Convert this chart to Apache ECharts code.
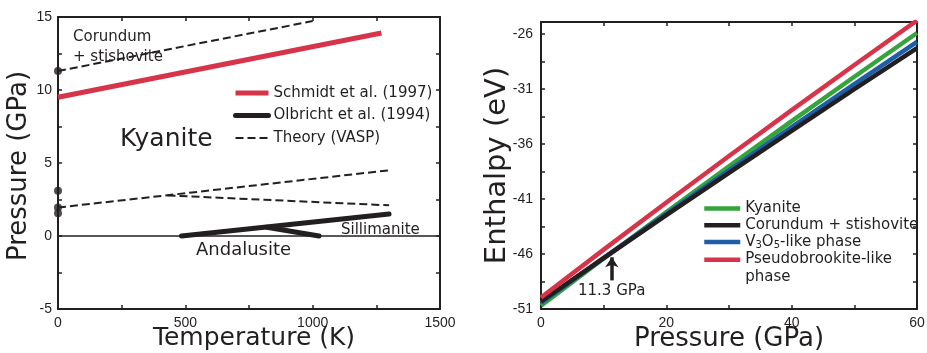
<!DOCTYPE html>
<html>
<head>
<meta charset="utf-8">
<script src="https://cdn.jsdelivr.net/npm/echarts@6/dist/echarts.min.js"></script>
<style>
  html, body { margin: 0; padding: 0; background: #ffffff; }
  #chart { width: 927px; height: 353px; }
</style>
</head>
<body>
<div id="chart"></div>
<script>
// ---- Left panel: Al2SiO5 phase boundaries, temperature (K) vs pressure (GPa) ----
const schmidtT = [0, 1270];
const schmidtP = [9.5, 13.9];
const olbrichtMainT = [485, 1300];
const olbrichtMainP = [0, 1.5];
const olbrichtBranchT = [820, 1025];
const olbrichtBranchP = [0.6, 0];
const theoryUpperT = [0, 1000];
const theoryUpperP = [11.3, 14.72];
const theoryRisingT = [0, 1300];
const theoryRisingP = [1.95, 4.5];
const theoryFallingT = [430, 1300];
const theoryFallingP = [2.78, 2.1];
const theoryDotsP = [11.3, 3.1, 1.95, 1.55];
const tempTicks = [0, 500, 1000, 1500];
const tempMinorTicks = [250, 750, 1250];
const pressureTicks = [-5, 0, 5, 10, 15];
const pressureMinorTicks = [-2.5, 2.5, 7.5, 12.5];

// ---- Right panel: enthalpy (eV) vs pressure (GPa) ----
const pressureGPa = [0, 10, 20, 30, 40, 50, 60];
const kyaniteH  = [-50.7, -46.41, -42.19, -38.03, -33.92, -29.88, -25.9];
const corundumH = [-50.3, -46.37, -42.47, -38.62, -34.8, -31.01, -27.27];
const v3o5H     = [-50.45, -46.35, -42.35, -38.4, -34.45, -30.55, -26.7];
const pseudoH   = [-49.95, -45.6, -41.32, -37.09, -32.92, -28.81, -24.76];
const gpaTicks = [0, 20, 40, 60];
const gpaMinorTicks = [10, 30, 50];
const enthalpyTicks = [-51, -46, -41, -36, -31, -26];
const enthalpyMinorTicks = [-48.5, -43.5, -38.5, -33.5, -28.5];
const transitionP = 11.3;
const arrowFromH = -48.4;
const arrowToH = -46.3;

const INK = '#231f20';
const RED = '#d7344a';
const GREEN = '#36a43c';
const BLUE = '#1f5da6';
const LABEL_FONT = "'Liberation Sans', Arial, sans-serif";
const TEXT_FONT = "'DejaVu Sans', sans-serif";

const zip = (xs, ys) => xs.map((x, i) => [x, ys[i]]);
const plain = v => String(v);

function ticksOf(major, minor) {
  return major.concat(minor).sort((a, b) => a - b);
}

// One side of a plot frame: solid axis line with inward ticks
function frameAxis(gridIndex, position, min, max, major, minor, extra) {
  return Object.assign({
    type: 'value', gridIndex, position, min, max,
    axisLine: { show: true, onZero: false, lineStyle: { color: INK, width: 2 } },
    axisTick: { show: true, inside: true, length: 4, lineStyle: { color: INK, width: 1.5 },
                customValues: ticksOf(major, minor) },
    axisLabel: { show: false },
    splitLine: { show: false }
  }, extra || {});
}

function labelled(major, margin) {
  return { show: true, customValues: major, margin, formatter: plain,
           color: INK, fontSize: 14, fontFamily: LABEL_FONT };
}

function axisTitle(text, gap, size, padding) {
  return { name: text, nameLocation: 'middle', nameGap: gap, nameMoveOverlap: false,
           nameTextStyle: { color: INK, fontSize: size, fontFamily: TEXT_FONT, padding } };
}

const legendText = { color: INK, fontFamily: TEXT_FONT };

const chart = echarts.init(document.getElementById('chart'), null, { renderer: 'canvas' });

chart.setOption({
  animation: false,
  backgroundColor: '#ffffff',
  grid: [
    { left: 58, right: 487, top: 17, bottom: 44, outerBoundsMode: 'none', containLabel: false },
    { left: 541, right: 10, top: 22, bottom: 44, outerBoundsMode: 'none', containLabel: false }
  ],
  xAxis: [
    frameAxis(0, 'bottom', 0, 1500, tempTicks, tempMinorTicks,
      Object.assign({ axisLabel: labelled(tempTicks, 7) },
                    axisTitle('Temperature (K)', 17, 25, [0, 0, 0, 10]))),
    frameAxis(0, 'top', 0, 1500, tempTicks, tempMinorTicks),
    frameAxis(1, 'bottom', 0, 60, gpaTicks, gpaMinorTicks,
      Object.assign({ axisLabel: labelled(gpaTicks, 7) },
                    axisTitle('Pressure (GPa)', 17, 26, 0))),
    frameAxis(1, 'top', 0, 60, gpaTicks, gpaMinorTicks)
  ],
  yAxis: [
    frameAxis(0, 'left', -5, 15, pressureTicks, pressureMinorTicks,
      Object.assign({ axisLabel: labelled(pressureTicks, 6) },
                    axisTitle('Pressure (GPa)', 26, 26, [0, 6, 0, 0]))),
    frameAxis(0, 'right', -5, 15, pressureTicks, pressureMinorTicks),
    frameAxis(1, 'left', -51, -24.9, enthalpyTicks, enthalpyMinorTicks,
      Object.assign({ axisLabel: labelled(enthalpyTicks, 8) },
                    axisTitle('Enthalpy (eV)', 29, 29, 0))),
    frameAxis(1, 'right', -51, -24.9, enthalpyTicks, enthalpyMinorTicks)
  ],
  legend: [
    {
      left: 233, top: 83, orient: 'vertical', padding: 0,
      itemWidth: 33, itemHeight: 14, itemGap: 2.5,
      data: ['Schmidt et al. (1997)', 'Olbricht et al. (1994)', 'Theory (VASP)'],
      lineStyle: { width: 'inherit' },
      itemStyle: { opacity: 0, borderWidth: 0 },
      selectedMode: false,
      textStyle: Object.assign({ fontSize: 15, lineHeight: 20 }, legendText)
    },
    {
      left: 702, top: 201, orient: 'vertical', padding: 0,
      itemWidth: 36, itemHeight: 14, itemGap: 1.7,
      data: ['Kyanite', 'Corundum + stishovite', 'V3O5-like phase'],
      lineStyle: { width: 'inherit' },
      itemStyle: { opacity: 0, borderWidth: 0 },
      selectedMode: false,
      formatter: function (name) {
        if (name === 'V3O5-like phase') {
          return '{n|V}{s|3}{n|O}{s|5}{n|-like phase}';
        }
        return '{n|' + name + '}';
      },
      textStyle: Object.assign({
        fontSize: 15,
        rich: {
          n: Object.assign({ fontSize: 15, lineHeight: 18 }, legendText),
          s: Object.assign({ fontSize: 10, lineHeight: 18, verticalAlign: 'bottom' }, legendText)
        }
      }, legendText)
    },
    {
      left: 702, top: 251.8, orient: 'vertical', padding: 0,
      itemWidth: 36, itemHeight: 14,
      data: ['Pseudobrookite-like phase'],
      lineStyle: { width: 'inherit' },
      itemStyle: { opacity: 0, borderWidth: 0 },
      selectedMode: false,
      formatter: function () {
        return '{a|Pseudobrookite-like}\n{b|phase}';
      },
      textStyle: Object.assign({
        fontSize: 15,
        rich: {
          a: Object.assign({ fontSize: 15, lineHeight: 34 }, legendText),
          b: Object.assign({ fontSize: 15, lineHeight: 1 }, legendText)
        }
      }, legendText)
    }
  ],
  graphic: [
    { type: 'text', x: 73, y: 37, silent: true,
      style: { text: 'Corundum', fill: INK, fontSize: 15, fontFamily: TEXT_FONT, verticalAlign: 'middle' } },
    { type: 'text', x: 73, y: 57, silent: true,
      style: { text: '+ stishovite', fill: INK, fontSize: 15, fontFamily: TEXT_FONT, verticalAlign: 'middle' } },
    { type: 'text', x: 120, y: 139, silent: true,
      style: { text: 'Kyanite', fill: INK, fontSize: 25, fontFamily: TEXT_FONT, verticalAlign: 'middle' } },
    { type: 'text', x: 196, y: 250, silent: true,
      style: { text: 'Andalusite', fill: INK, fontSize: 18, fontFamily: TEXT_FONT, verticalAlign: 'middle' } },
    { type: 'text', x: 341, y: 230, silent: true,
      style: { text: 'Sillimanite', fill: INK, fontSize: 15, fontFamily: TEXT_FONT, verticalAlign: 'middle' } },
    { type: 'text', x: 578, y: 291, silent: true,
      style: { text: '11.3 GPa', fill: INK, fontSize: 15, fontFamily: TEXT_FONT, verticalAlign: 'middle' } }
  ],
  series: [
    // Left panel
    {
      name: 'Theory (VASP)', type: 'line', xAxisIndex: 0, yAxisIndex: 0,
      data: zip(theoryUpperT, theoryUpperP), symbol: 'none', z: 3,
      itemStyle: { color: INK },
      lineStyle: { color: INK, width: 2, type: [8, 4] }
    },
    {
      name: 'Theory (VASP)', type: 'line', xAxisIndex: 0, yAxisIndex: 0,
      data: zip(theoryRisingT, theoryRisingP), symbol: 'none', z: 3,
      itemStyle: { color: INK },
      lineStyle: { color: INK, width: 2, type: [8, 4] }
    },
    {
      name: 'Theory (VASP)', type: 'line', xAxisIndex: 0, yAxisIndex: 0,
      data: zip(theoryFallingT, theoryFallingP), symbol: 'none', z: 3,
      itemStyle: { color: INK },
      lineStyle: { color: INK, width: 2, type: [8, 4] }
    },
    {
      name: 'Schmidt et al. (1997)', type: 'line', xAxisIndex: 0, yAxisIndex: 0,
      data: zip(schmidtT, schmidtP), symbol: 'none', z: 4,
      itemStyle: { color: RED },
      lineStyle: { color: RED, width: 5, cap: 'butt' }
    },
    {
      name: 'Olbricht et al. (1994)', type: 'line', xAxisIndex: 0, yAxisIndex: 0,
      data: zip(olbrichtMainT, olbrichtMainP), symbol: 'none', z: 4,
      itemStyle: { color: INK },
      lineStyle: { color: INK, width: 5, cap: 'round' }
    },
    {
      name: 'Olbricht et al. (1994)', type: 'line', xAxisIndex: 0, yAxisIndex: 0,
      data: zip(olbrichtBranchT, olbrichtBranchP), symbol: 'none', z: 4,
      itemStyle: { color: INK },
      lineStyle: { color: INK, width: 5, cap: 'round' }
    },
    {
      name: 'Theory endpoints', type: 'scatter', xAxisIndex: 0, yAxisIndex: 0,
      data: theoryDotsP.map(p => [0, p]), symbol: 'circle', symbolSize: 8,
      clip: false, z: 5,
      itemStyle: { color: INK },
      markLine: {
        silent: true, symbol: 'none', label: { show: false },
        lineStyle: { color: INK, width: 1.5, type: 'solid' },
        data: [{ yAxis: 0 }]
      }
    },
    // Right panel
    {
      name: 'Kyanite', type: 'line', xAxisIndex: 2, yAxisIndex: 2,
      data: zip(pressureGPa, kyaniteH), symbol: 'none', z: 3,
      itemStyle: { color: GREEN },
      lineStyle: { color: GREEN, width: 4.5 }
    },
    {
      name: 'V3O5-like phase', type: 'line', xAxisIndex: 2, yAxisIndex: 2,
      data: zip(pressureGPa, v3o5H), symbol: 'none', z: 4,
      itemStyle: { color: BLUE },
      lineStyle: { color: BLUE, width: 4.5 }
    },
    {
      name: 'Corundum + stishovite', type: 'line', xAxisIndex: 2, yAxisIndex: 2,
      data: zip(pressureGPa, corundumH), symbol: 'none', z: 5,
      itemStyle: { color: INK },
      lineStyle: { color: INK, width: 4.5 },
      markLine: {
        silent: true, symbol: ['none', 'arrow'], symbolSize: 10,
        label: { show: false },
        lineStyle: { color: INK, width: 3.5, type: 'solid' },
        data: [[{ coord: [transitionP, arrowFromH] }, { coord: [transitionP, arrowToH] }]]
      }
    },
    {
      name: 'Pseudobrookite-like phase', type: 'line', xAxisIndex: 2, yAxisIndex: 2,
      data: zip(pressureGPa, pseudoH), symbol: 'none', z: 6,
      itemStyle: { color: RED },
      lineStyle: { color: RED, width: 4.5 }
    }
  ]
});
</script>
</body>
</html>
